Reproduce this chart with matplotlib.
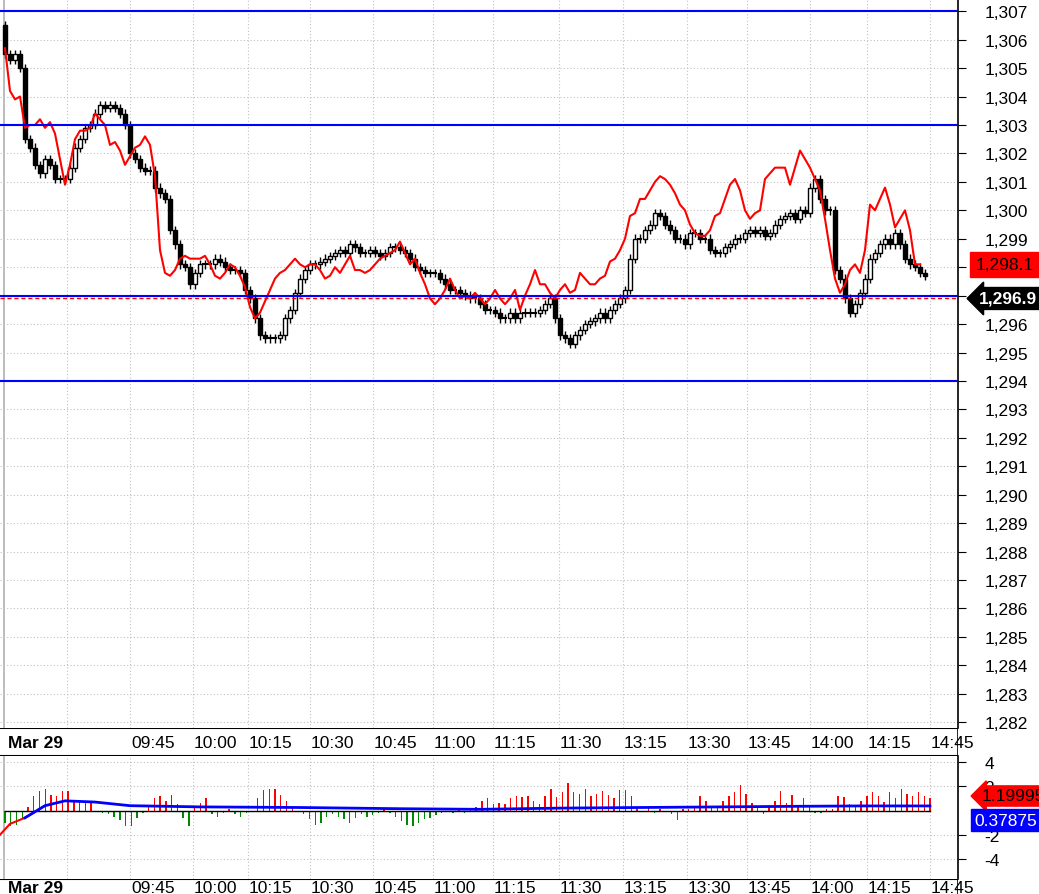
import numpy as np
import matplotlib
matplotlib.use("Agg")
from matplotlib import pyplot as plt

plt.rcParams['font.family'] = ['Liberation Sans', 'DejaVu Sans']

# candle closes, one bar every 5 px slot
closes = [1305.5, 1305.3, 1305.5, 1305.0, 1302.5, 1302.2, 1301.6, 1301.3, 1301.8, 1301.6,
          1301.1, 1301.1, 1301.1, 1301.5, 1302.2, 1302.5, 1302.9, 1303.0, 1303.4, 1303.7,
          1303.6, 1303.7, 1303.6, 1303.4, 1303.0, 1302.0, 1301.8, 1301.5, 1301.4, 1301.4,
          1300.8, 1300.6, 1300.4, 1299.3, 1298.8, 1298.1, 1298.0, 1297.4, 1297.8, 1298.1,
          1298.1, 1298.1, 1298.3, 1298.2, 1298.0, 1297.9, 1297.9, 1297.8, 1297.2, 1296.9,
          1296.2, 1295.6, 1295.5, 1295.5, 1295.5, 1295.6, 1296.2, 1296.5, 1297.1, 1297.6,
          1297.9, 1298.1, 1298.1, 1298.2, 1298.3, 1298.4, 1298.5, 1298.6, 1298.5, 1298.8,
          1298.7, 1298.5, 1298.5, 1298.6, 1298.5, 1298.4, 1298.5, 1298.7, 1298.7, 1298.6,
          1298.5, 1298.3, 1298.0, 1297.9, 1297.8, 1297.8, 1297.8, 1297.6, 1297.4, 1297.2,
          1297.2, 1297.1, 1297.0, 1296.9, 1296.9, 1296.7, 1296.5, 1296.5, 1296.4, 1296.2,
          1296.2, 1296.4, 1296.2, 1296.4, 1296.4, 1296.4, 1296.4, 1296.5, 1296.7, 1296.9,
          1296.2, 1295.6, 1295.5, 1295.3, 1295.6, 1295.8, 1296.0, 1296.1, 1296.2, 1296.4,
          1296.2, 1296.5, 1296.7, 1296.9, 1297.2, 1298.3, 1299.0, 1299.0, 1299.3, 1299.5,
          1299.9, 1299.8, 1299.5, 1299.3, 1299.0, 1299.0, 1298.8, 1299.2, 1299.2, 1299.0,
          1299.0, 1298.6, 1298.5, 1298.5, 1298.7, 1298.8, 1299.0, 1299.0, 1299.2, 1299.3,
          1299.2, 1299.3, 1299.1, 1299.2, 1299.5, 1299.7, 1299.8, 1299.9, 1299.7, 1300.0,
          1299.9, 1300.8, 1301.1, 1300.4, 1300.0, 1300.0, 1297.9, 1297.6, 1296.9, 1296.4,
          1296.7, 1297.1, 1297.6, 1298.3, 1298.5, 1298.8, 1299.0, 1298.8, 1299.2, 1298.8,
          1298.3, 1298.1, 1298.0, 1297.8, 1297.7]
first_open = 1306.5

# red overlay line
overlay = [1305.7, 1304.2, 1303.9, 1304.0, 1302.9, 1303.0, 1303.0, 1303.2, 1302.9, 1303.1,
           1302.7, 1301.8, 1300.9, 1301.6, 1302.5, 1302.8, 1302.8, 1302.9, 1303.4, 1303.2,
           1303.0, 1302.3, 1302.4, 1302.1, 1301.6, 1301.9, 1302.2, 1302.3, 1302.6, 1302.3,
           1301.2, 1298.6, 1297.8, 1297.7, 1297.9, 1298.3, 1298.4, 1298.3, 1298.3, 1298.3,
           1298.4, 1298.1, 1297.7, 1297.6, 1297.8, 1298.1, 1298.0, 1297.7, 1297.3, 1296.6,
           1296.2, 1296.4, 1296.8, 1297.2, 1297.6, 1297.8, 1297.9, 1298.1, 1298.3, 1298.1,
           1298.0, 1298.1, 1298.1, 1297.9, 1297.6, 1297.7, 1298.0, 1297.8, 1298.1, 1298.4,
           1297.9, 1297.9, 1297.8, 1297.9, 1298.1, 1298.3, 1298.4, 1298.5, 1298.6, 1298.9,
           1298.5, 1298.1, 1298.3, 1297.8, 1297.4, 1296.9, 1296.7, 1296.9, 1297.2, 1297.6,
           1297.2, 1296.9, 1297.0, 1296.9, 1297.1, 1296.9, 1296.7, 1296.9, 1297.2, 1296.9,
           1296.7, 1296.9, 1297.2, 1296.5, 1297.0, 1297.4, 1297.9, 1297.4, 1297.4, 1297.1,
           1296.9, 1297.2, 1297.4, 1297.1, 1297.2, 1297.8, 1297.6, 1297.4, 1297.4, 1297.6,
           1297.7, 1298.2, 1298.3, 1298.6, 1299.0, 1299.8, 1299.9, 1300.4, 1300.4, 1300.7,
           1301.0, 1301.2, 1301.1, 1300.9, 1300.6, 1300.2, 1300.0, 1299.5, 1299.2, 1299.1,
           1299.1, 1299.3, 1299.8, 1299.9, 1300.4, 1300.9, 1301.1, 1300.7, 1300.0, 1299.7,
           1299.9, 1300.0, 1301.1, 1301.3, 1301.5, 1301.5, 1301.5, 1300.9, 1301.5, 1302.1,
           1301.8, 1301.5, 1301.1, 1300.7, 1299.7, 1298.6, 1297.6, 1297.1, 1297.4, 1297.9,
           1298.1, 1297.8, 1298.6, 1300.2, 1300.0, 1300.4, 1300.8, 1300.2, 1299.4, 1299.7,
           1300.0, 1299.3, 1298.1, 1298.1]

h_lines = [1307.0, 1303.0, 1297.0, 1294.0]
last_close = 1296.9
overlay_last = 1298.1

# lower panel histogram
hist = [-1.0, -1.3, -1.2, -0.6, 0.3, 1.2, 1.6, 1.8, 1.3, 1.2, 1.6, 1.6, 0.9, 0.7, 0.7, 0.6,
        -0.1, -0.2, -0.3, -0.5, -0.8, -1.3, -1.3, -0.6, -0.2, 0.4, 1.0, 1.2, 0.8, 1.3, 0.5,
        -0.6, -1.3, 0.3, 0.6, 1.0, -0.3, -0.5, -0.2, 0.1, -0.3, -0.5, -0.2, 0.0, 1.0, 1.7,
        1.8, 1.8, 1.3, 0.8, 0.4, 0.0, -0.3, -0.7, -1.2, -1.0, -0.5, -0.3, -0.5, -0.7, -1.0,
        -0.6, -0.3, -0.5, -0.4, -0.2, 0.1, -0.2, -0.5, -0.9, -1.2, -1.3, -1.0, -0.7, -0.6,
        -0.4, -0.2, -0.1, -0.2, 0.1, -0.2, 0.2, 0.3, 0.8, 1.0, 0.5, 0.6, 0.5, 1.0, 1.2, 1.1,
        1.2, 0.8, 0.5, 1.2, 1.8, 1.1, 1.5, 2.3, 1.5, 1.4, 1.8, 1.2, 1.4, 1.6, 1.3, 1.0, 1.7,
        1.7, 1.2, 0.1, -0.1, 0.2, -0.2, 0.1, -0.1, -0.3, -0.8, 0.1, 0.1, 0.3, 1.2, 0.8, 0.2,
        0.3, 0.8, 1.2, 1.5, 2.1, 1.4, 0.6, 0.2, -0.3, 0.3, 0.8, 1.6, 0.6, 1.3, 0.4, 1.0, 0.3,
        -0.2, -0.2, 0.1, 0.1, 1.2, 1.1, 0.5, 0.3, 0.8, 1.2, 1.5, 1.2, 0.7, 1.5, 1.0, 1.8,
        1.4, 1.2, 1.5, 1.2, 1.0]
signal_px = [0, 10, 25, 45, 65, 95, 130, 200, 300, 400, 480, 560, 640, 720, 800, 860, 930]
signal_val = [-2.0, -1.1, -0.6, 0.4, 0.8, 0.7, 0.4, 0.3, 0.25, 0.15, 0.1, 0.2, 0.25, 0.3, 0.35, 0.38, 0.38]

tick_px = [67, 130, 193, 248, 310, 373, 433, 493, 559, 623, 687, 747, 810, 867, 930]
tick_lbl = ['', '09:45', '10:00', '10:15', '10:30', '10:45', '11:00', '11:15', '11:30',
            '13:15', '13:30', '13:45', '14:00', '14:15', '14:45']

FS = 12.5
W, H = 1039, 895
fig = plt.figure(figsize=(W / 100, H / 100), dpi=100)
fig.patch.set_facecolor('white')

def frac(y0, y1):
    return 1 - y1 / H, (y1 - y0) / H

axw = 958 / W
b, h = frac(0, 729)
ax = fig.add_axes([0, b, axw, h])
b, h = frac(729, 757)
axt = fig.add_axes([0, b, axw, h])
b, h = frac(757, 880)
ax2 = fig.add_axes([0, b, axw, h])
b, h = frac(880, 910)
axb = fig.add_axes([0, b, axw, h])

xs = 5 * (np.arange(len(closes)) + 1)
opens = [first_open] + closes[:-1]

for a in (ax, ax2):
    for t in tick_px:
        a.axvline(t, color='#c0c0c0', ls=(0, (1, 2)), lw=0.8, zorder=0)
    a.axvline(4, color='#b0b0b0', lw=1.2, zorder=0)

# main price panel
for p in range(1282, 1308):
    ax.axhline(p, color='#c0c0c0', ls=(0, (1, 2)), lw=0.8, zorder=0)
for x, o, c in zip(xs, opens, closes):
    lo, hi = min(o, c), max(o, c)
    ax.vlines(x, lo - 0.15, hi + 0.15, color='black', lw=1, zorder=3)
    if hi - lo < 0.05:
        ax.hlines(c, x - 2.5, x + 2.5, color='black', lw=1.5, zorder=4)
    else:
        ax.bar(x, hi - lo, bottom=lo, width=4.5, facecolor='white' if c > o else 'black',
               edgecolor='black', lw=1, zorder=4)
ax.plot(5 * (np.arange(len(overlay)) + 1), overlay, color='#ff0000', lw=1.5, zorder=5)
for lv in h_lines:
    ax.axhline(lv, color='#0000ff', lw=1.5, zorder=6)
ax.axhline(last_close, color='#ff0000', ls=(0, (3, 2)), lw=1, zorder=6)
ax.set_xlim(0, 958)
ax.set_ylim(1307.43 - 729 * 0.03516, 1307.43)
ax.set_xticks([])
ax.yaxis.tick_right()
ax.set_yticks(range(1282, 1308))
ax.set_yticklabels(['' if p in (1297, 1298) else f'{p:,}' for p in range(1282, 1308)],
                   fontsize=FS)
ax.tick_params(axis='y', length=6, pad=13)
for lab in ax.get_yticklabels():
    lab.set_horizontalalignment('left')
for s in ('top', 'left', 'bottom'):
    ax.spines[s].set_visible(False)
ax.spines['right'].set_linewidth(1.2)

# price tags
ax.annotate(f'{overlay_last:,.1f}', xy=(1.018, overlay_last), xycoords=('axes fraction', 'data'),
            fontsize=FS, color='black', va='center', ha='left', annotation_clip=False,
            bbox=dict(boxstyle='square,pad=0.3', fc='#ff0000', ec='#ff0000'))
ax.annotate(f'{last_close:,.1f}', xy=(1.022, last_close), xycoords=('axes fraction', 'data'),
            fontsize=FS, color='white', fontweight='bold', va='center', ha='left',
            annotation_clip=False,
            bbox=dict(boxstyle='larrow,pad=0.2', fc='black', ec='black'))

# time strips
for a in (axt, axb):
    a.set_xlim(0, 958)
    a.set_ylim(0, 1)
    a.set_xticks([])
    a.set_yticks([])
    for s in a.spines.values():
        s.set_visible(False)
    yy = 0.5 if a is axt else 0.72
    a.text(8, yy, 'Mar 29', fontsize=FS, fontweight='bold', va='center', ha='left')
    for t, l in zip(tick_px, tick_lbl):
        a.text(t + 1, yy, l, fontsize=FS, va='center', ha='left')
axt.axhline(1, color='black', lw=1.5)
axt.axhline(0, color='black', lw=1.5)
axt.axvline(958, color='black', lw=1.2)
axb.axhline(1, color='black', lw=1.5)
axb.axvline(958, color='black', lw=1.2)

# lower indicator panel
for v in (-4, -2, 2, 4):
    ax2.axhline(v, color='#c0c0c0', ls=(0, (1, 2)), lw=0.8, zorder=0)
hx = np.linspace(5, 930, len(hist))
hv = np.array(hist)
ax2.bar(hx, hv, width=1.4, color=np.where(hv >= 0, '#ff0000', '#008800'), zorder=2)
ax2.axhline(0, xmin=5 / 958, xmax=930 / 958, color='black', lw=1, zorder=3)
ax2.plot(signal_px[:4], signal_val[:4], color='#ff0000', lw=1.5, zorder=4)
ax2.plot(signal_px[2:], signal_val[2:], color='#0000ff', lw=2, zorder=4)
ax2.set_xlim(0, 958)
ax2.set_ylim(-5.65, 4.5)
ax2.set_xticks([])
ax2.yaxis.tick_right()
ax2.set_yticks([-4, -2, 2, 4])
ax2.set_yticklabels(['-4', '-2', '2', '4'], fontsize=FS)
ax2.tick_params(axis='y', length=6, pad=13)
for lab in ax2.get_yticklabels():
    lab.set_horizontalalignment('left')
for s in ('top', 'left', 'bottom'):
    ax2.spines[s].set_visible(False)
ax2.spines['right'].set_linewidth(1.2)
ax2.annotate('1.19995', xy=(1.025, 1.2), xycoords=('axes fraction', 'data'),
             fontsize=FS, color='black', va='center', ha='left', annotation_clip=False,
             bbox=dict(boxstyle='larrow,pad=0.15', fc='#ff0000', ec='#ff0000'))
ax2.annotate('0.37875', xy=(1.017, -0.8), xycoords=('axes fraction', 'data'),
             fontsize=FS, color='white', va='center', ha='left', annotation_clip=False,
             bbox=dict(boxstyle='square,pad=0.2', fc='#0000ff', ec='#0000ff'))

fig.savefig('out.png', dpi=100)
